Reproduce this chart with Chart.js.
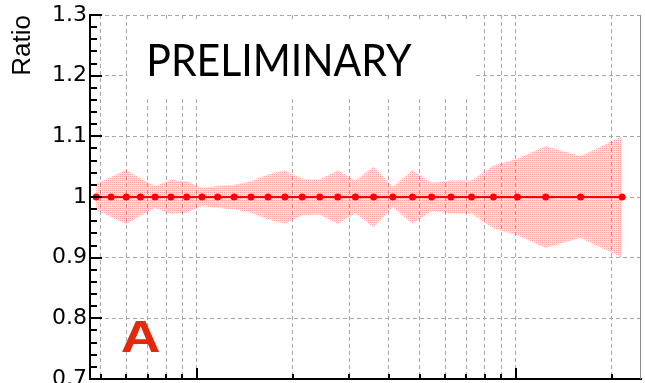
<!DOCTYPE html>
<html>
<head>
<meta charset="utf-8">
<style>
  html, body { margin: 0; padding: 0; background: #fff; overflow: hidden; }
  canvas { display: block; }
</style>
<script src="https://cdn.jsdelivr.net/npm/chart.js@4.4.1/dist/chart.umd.min.js"></script>
</head>
<body>
<canvas id="c" width="645" height="383"></canvas>
<script>
// Bin centres on the logarithmic x axis
const binCenters = [48.3, 53.8, 60.0, 66.5, 73.9, 82.9, 92.8, 103.7, 116.1, 130.8,
                    147.8, 167.1, 188.8, 213.8, 242.8, 276.4, 314.0, 358.1, 411.5, 474.2,
                    544.6, 626.4, 726.6, 851.1, 1011.6, 1241, 1596, 2154];
// Ratio per bin
const ratio = [1, 1, 1, 1, 1, 1, 1, 1, 1, 1,
               1, 1, 1, 1, 1, 1, 1, 1, 1, 1,
               1, 1, 1, 1, 1, 1, 1, 1];
// Uncertainty band half-widths per bin
const ratioErr = [0.022, 0.033, 0.045, 0.031, 0.018, 0.028, 0.026, 0.015, 0.018, 0.020,
                  0.026, 0.037, 0.044, 0.030, 0.029, 0.044, 0.027, 0.050, 0.017, 0.044,
                  0.023, 0.027, 0.027, 0.052, 0.063, 0.084, 0.067, 0.100];

// Axis ranges and ticks
const xRange = [46.2, 2470];
const xGridTicks = [50, 60, 70, 80, 90, 100, 200, 300, 400, 500, 600, 700, 800, 900, 1000, 2000];
const xMajorTicks = [100, 1000];
const yRange = [0.7, 1.3];
const yTicks = [0.7, 0.8, 0.9, 1.0, 1.1, 1.2, 1.3];
const yTickLabels = ['0.7', '0.8', '0.9', '1', '1.1', '1.2', '1.3'];
const yMinorTicks = [0.72, 0.74, 0.76, 0.78, 0.82, 0.84, 0.86, 0.88, 0.92, 0.94, 0.96, 0.98,
                     1.02, 1.04, 1.06, 1.08, 1.12, 1.14, 1.16, 1.18, 1.22, 1.24, 1.26, 1.28];

// Dotted pink fill for the uncertainty band
function bandPattern() {
  const pc = document.createElement('canvas');
  pc.width = 2; pc.height = 2;
  const p = pc.getContext('2d');
  p.fillStyle = 'rgba(255,70,70,0.18)';
  p.fillRect(0, 0, 2, 2);
  p.clearRect(0, 0, 1, 1);
  p.fillStyle = 'rgba(255,70,70,0.48)';
  p.fillRect(0, 0, 1, 1);
  return p.createPattern(pc, 'repeat');
}

// Text drawn so that its ink spans a given width
function drawFitted(ctx, text, font, color, left, baseline, inkWidth) {
  ctx.save();
  ctx.font = font;
  const m = ctx.measureText(text);
  const w = m.actualBoundingBoxLeft + m.actualBoundingBoxRight;
  ctx.translate(left, baseline);
  ctx.scale(inkWidth / w, 1);
  ctx.fillStyle = color;
  ctx.textAlign = 'left';
  ctx.textBaseline = 'alphabetic';
  ctx.fillText(text, m.actualBoundingBoxLeft, 0);
  ctx.restore();
}

const decorations = {
  id: 'decorations',
  beforeDatasetsDraw(chart) {
    const ctx = chart.ctx;
    // label panel
    ctx.save();
    ctx.fillStyle = '#fff';
    ctx.fillRect(127.5, 19, 345.5, 79);
    ctx.restore();
    drawFitted(ctx, 'PRELIMINARY', '44px Lato', '#000', 150, 75.5, 262);
    drawFitted(ctx, 'A', 'bold 45px "Liberation Sans"', '#e3290c', 122, 352.3, 38);
  },
  afterDraw(chart) {
    const ctx = chart.ctx;
    const area = chart.chartArea;
    const xs = chart.scales.x, ys = chart.scales.y;
    ctx.save();
    // right frame edge
    ctx.strokeStyle = '#8a8a8a';
    ctx.lineWidth = 1;
    ctx.beginPath();
    ctx.moveTo(area.right - 0.5, area.top);
    ctx.lineTo(area.right - 0.5, area.bottom);
    ctx.stroke();
    // inner tick marks
    ctx.strokeStyle = '#000';
    ctx.lineWidth = 2;
    ctx.beginPath();
    yTicks.forEach(v => {
      const y = Math.round(ys.getPixelForValue(v));
      ctx.moveTo(area.left, y); ctx.lineTo(area.left + 12, y);
    });
    yMinorTicks.forEach(v => {
      const y = Math.round(ys.getPixelForValue(v));
      ctx.moveTo(area.left, y); ctx.lineTo(area.left + 7, y);
    });
    xGridTicks.forEach(v => {
      const x = Math.round(xs.getPixelForValue(v));
      const len = xMajorTicks.includes(v) ? 11 : 5;
      ctx.moveTo(x, area.bottom); ctx.lineTo(x, area.bottom - len);
    });
    ctx.stroke();
    ctx.restore();
  }
};

const ctx = document.getElementById('c').getContext('2d');
const fill = bandPattern();

new Chart(ctx, {
  type: 'line',
  data: {
    datasets: [
      {
        label: 'upper',
        data: binCenters.map((x, i) => ({ x, y: ratio[i] + ratioErr[i] })),
        borderColor: 'rgba(0,0,0,0)',
        borderWidth: 0,
        pointRadius: 0,
        backgroundColor: fill,
        fill: '+1',
        order: 2
      },
      {
        label: 'lower',
        data: binCenters.map((x, i) => ({ x, y: ratio[i] - ratioErr[i] })),
        borderColor: 'rgba(0,0,0,0)',
        borderWidth: 0,
        pointRadius: 0,
        fill: false,
        order: 2
      },
      {
        label: 'Ratio',
        data: binCenters.map((x, i) => ({ x, y: ratio[i] })),
        borderColor: '#ff0000',
        borderWidth: 2,
        pointRadius: 3.5,
        pointBackgroundColor: '#ff0000',
        pointBorderColor: '#ff0000',
        pointBorderWidth: 0,
        fill: false,
        tension: 0,
        order: 0
      }
    ]
  },
  options: {
    responsive: false,
    animation: false,
    devicePixelRatio: 1,
    layout: { padding: { left: 0, right: 2, top: 15, bottom: 1 } },
    plugins: {
      legend: { display: false },
      tooltip: { enabled: false }
    },
    scales: {
      x: {
        type: 'logarithmic',
        min: xRange[0],
        max: xRange[1],
        afterBuildTicks: s => { s.ticks = xGridTicks.map(v => ({ value: v })); },
        afterFit: s => { s.height = 0; s.paddingLeft = 0; s.paddingRight = 0; },
        ticks: { display: false, autoSkip: false },
        grid: { color: '#a8a8a8', lineWidth: 1, drawTicks: false },
        border: { display: true, color: '#000', width: 2, dash: [4, 3] }
      },
      y: {
        type: 'linear',
        min: yRange[0],
        max: yRange[1],
        afterBuildTicks: s => { s.ticks = yTicks.map(v => ({ value: v })); },
        afterFit: s => { s.width = 90; s.paddingTop = 0; s.paddingBottom = 0; },
        ticks: {
          autoSkip: false,
          padding: 3,
          color: '#000',
          font: { family: '"DejaVu Sans"', size: 22 },
          callback: (v, i) => yTickLabels[i]
        },
        grid: { color: '#a8a8a8', lineWidth: 1, drawTicks: false },
        border: { display: true, color: '#000', width: 2, dash: [4, 3] },
        title: {
          display: true,
          text: 'Ratio',
          align: 'end',
          color: '#000',
          font: { family: '"Liberation Sans"', size: 26 },
          padding: { top: 7, bottom: 0 }
        }
      }
    }
  },
  plugins: [decorations]
});
</script>
</body>
</html>
